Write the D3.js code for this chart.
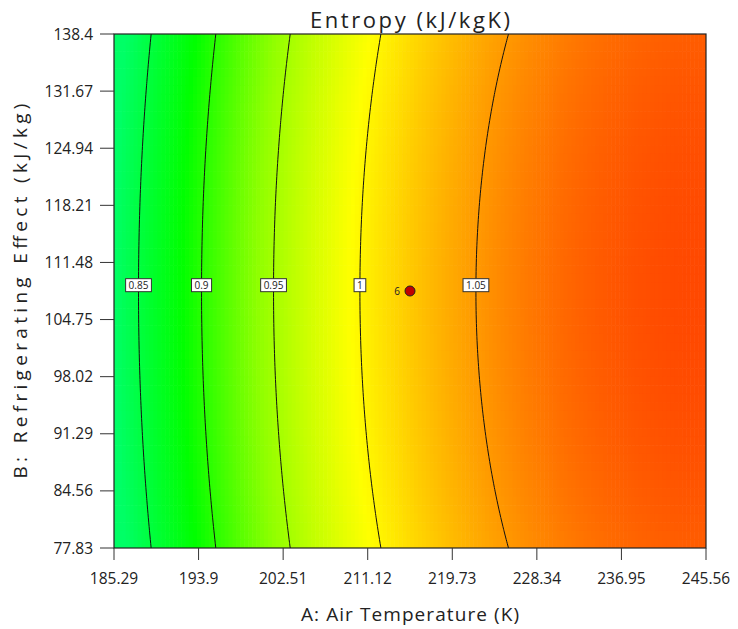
<!DOCTYPE html>
<html>
<head>
<meta charset="utf-8">
<script src="https://cdn.jsdelivr.net/npm/d3@7"></script>
<style>
  body { margin: 0; background: #fff; }
  text { font-family: "Open Sans", "Noto Sans", sans-serif; fill: #222; }
</style>
</head>
<body>
<div id="chart"></div>
<script>
// axis ranges and tick labels
const xTicks = [185.29, 193.9, 202.51, 211.12, 219.73, 228.34, 236.95, 245.56]
const yTicks = [77.83, 84.56, 91.29, 98.02, 104.75, 111.48, 118.21, 124.94, 131.67, 138.4]

// fitted quadratic model in coded units: [const, A, B, AB, A^2, B^2]
const coef = [1.024, 0.131, 0, 0, -0.064, -0.0105]
const levels = [0.85, 0.9, 0.95, 1, 1.05]
const levelLabels = ['0.85', '0.9', '0.95', '1', '1.05']

// colour stops (response value -> colour)
const colorVals = [0.829, 0.885, 0.94, 0.995, 1.05, 1.091]
const colorHex = ['#00ff66', '#00ff00', '#90ff00', '#ffff00', '#ff9900', '#ff4800']

// design point
const points = [{A: 215.425, B: 108.115, label: '6'}]

const W = 738, H = 629
const pL = 114, pR = 706, pT = 34, pB = 548

const svg = d3.select('#chart').append('svg')
  .attr('width', W).attr('height', H)

const x = d3.scaleLinear().domain([xTicks[0], xTicks[xTicks.length-1]]).range([pL, pR])
const y = d3.scaleLinear().domain([yTicks[0], yTicks[yTicks.length-1]]).range([pB, pT])
const color = d3.scaleLinear().domain(colorVals).range(colorHex).clamp(true)

const aMid = (xTicks[0] + xTicks[xTicks.length-1]) / 2, aHalf = (xTicks[xTicks.length-1] - xTicks[0]) / 2
const bMid = (yTicks[0] + yTicks[yTicks.length-1]) / 2, bHalf = (yTicks[yTicks.length-1] - yTicks[0]) / 2

function model(A, B) {
  const a = (A - aMid) / aHalf, b = (B - bMid) / bHalf
  return coef[0] + coef[1]*a + coef[2]*b + coef[3]*a*b + coef[4]*a*a + coef[5]*b*b
}

// clip to plot area
svg.append('clipPath').attr('id', 'plot')
  .append('rect').attr('x', pL).attr('y', pT).attr('width', pR-pL).attr('height', pB-pT)

// colour fill grid
const nx = 150, ny = 60
const cw = (pR - pL) / nx, ch = (pB - pT) / ny
const cells = []
for (let j = 0; j < ny; j++) {
  for (let i = 0; i < nx; i++) {
    const px = pL + (i + 0.5) * cw, py = pT + (j + 0.5) * ch
    cells.push({i, j, v: model(x.invert(px), y.invert(py))})
  }
}
svg.append('g').attr('clip-path', 'url(#plot)')
  .selectAll('rect').data(cells).enter().append('rect')
  .attr('x', d => pL + d.i * cw)
  .attr('y', d => pT + d.j * ch)
  .attr('width', cw + 0.6)
  .attr('height', ch + 0.6)
  .attr('fill', d => color(d.v))

// contour lines
const gx = 200, gy = 120
const grid = new Array(gx * gy)
for (let j = 0; j < gy; j++) {
  for (let i = 0; i < gx; i++) {
    const px = pL + i / (gx - 1) * (pR - pL)
    const py = pT + j / (gy - 1) * (pB - pT)
    grid[i + j * gx] = model(x.invert(px), y.invert(py))
  }
}
const contours = d3.contours().size([gx, gy]).thresholds(levels)(grid)
const sx = (pR - pL) / (gx - 1), sy = (pB - pT) / (gy - 1)
const proj = d3.geoTransform({
  point: function(px, py) {
    this.stream.point(pL + (px - 0.5) * sx, pT + (py - 0.5) * sy)
  }
})
svg.append('g').attr('clip-path', 'url(#plot)')
  .selectAll('path').data(contours).enter().append('path')
  .attr('d', d3.geoPath(proj))
  .attr('fill', 'none')
  .attr('stroke', '#111')
  .attr('stroke-width', 1)

// frame
svg.append('rect')
  .attr('x', pL).attr('y', pT).attr('width', pR-pL).attr('height', pB-pT)
  .attr('fill', 'none').attr('stroke', '#222').attr('stroke-width', 1.2)

// contour labels at B = 108.8
const labelB = 108.8
levels.forEach((lv, k) => {
  let lo = xTicks[0], hi = xTicks[xTicks.length-1]
  for (let it = 0; it < 40; it++) {
    const mid = (lo + hi) / 2
    if (model(mid, labelB) < lv) lo = mid; else hi = mid
  }
  const cx = x(lo), cy = y(labelB)
  const g = svg.append('g')
  const t = g.append('text')
    .attr('x', cx).attr('y', cy + 3.8)
    .attr('text-anchor', 'middle')
    .style('font-size', '10px')
    .text(levelLabels[k])
  const bw = t.node().getComputedTextLength() + 6
  g.insert('rect', 'text')
    .attr('x', cx - bw/2).attr('y', cy - 6.5)
    .attr('width', bw).attr('height', 13)
    .attr('fill', '#fff').attr('stroke', '#333').attr('stroke-width', 1)
})

// design points
svg.selectAll('circle.pt').data(points).enter().append('circle')
  .attr('class', 'pt')
  .attr('cx', d => x(d.A)).attr('cy', d => y(d.B))
  .attr('r', 5)
  .attr('fill', '#c00000').attr('stroke', '#222').attr('stroke-width', 1)
svg.selectAll('text.pt').data(points).enter().append('text')
  .attr('class', 'pt')
  .attr('x', d => x(d.A) - 10).attr('y', d => y(d.B) + 4)
  .attr('text-anchor', 'end')
  .style('font-size', '10px')
  .text(d => d.label)

// axes
const xAxis = svg.append('g').attr('transform', `translate(0,${pB})`)
xAxis.selectAll('line').data(xTicks).enter().append('line')
  .attr('x1', d => x(d)).attr('x2', d => x(d))
  .attr('y1', 0).attr('y2', 12)
  .attr('stroke', '#333')
xAxis.selectAll('text').data(xTicks).enter().append('text')
  .attr('x', d => x(d)).attr('y', 36)
  .attr('text-anchor', 'middle')
  .style('font-size', '15.5px')
  .text(d => d)

const yAxis = svg.append('g')
yAxis.selectAll('line').data(yTicks).enter().append('line')
  .attr('x1', pL - 14).attr('x2', pL)
  .attr('y1', d => y(d)).attr('y2', d => y(d))
  .attr('stroke', '#333')
yAxis.selectAll('text').data(yTicks).enter().append('text')
  .attr('x', pL - 21).attr('y', d => y(d) + 5.5)
  .attr('text-anchor', 'end')
  .style('font-size', '15.5px')
  .text(d => d)

// titles
svg.append('text')
  .attr('x', (pL + pR) / 2).attr('y', 28)
  .attr('text-anchor', 'middle')
  .attr('textLength', 200).attr('lengthAdjust', 'spacing')
  .style('font-size', '22px')
  .text('Entropy (kJ/kgK)')
svg.append('text')
  .attr('x', (pL + pR) / 2).attr('y', 621)
  .attr('text-anchor', 'middle')
  .attr('textLength', 218).attr('lengthAdjust', 'spacing')
  .style('font-size', '19px')
  .text('A: Air Temperature (K)')
svg.append('text')
  .attr('transform', `translate(27,${(pT + pB) / 2}) rotate(-90)`)
  .attr('text-anchor', 'middle')
  .attr('textLength', 375).attr('lengthAdjust', 'spacing')
  .style('font-size', '19px')
  .text('B: Refrigerating Effect (kJ/kg)')
</script>
</body>
</html>
